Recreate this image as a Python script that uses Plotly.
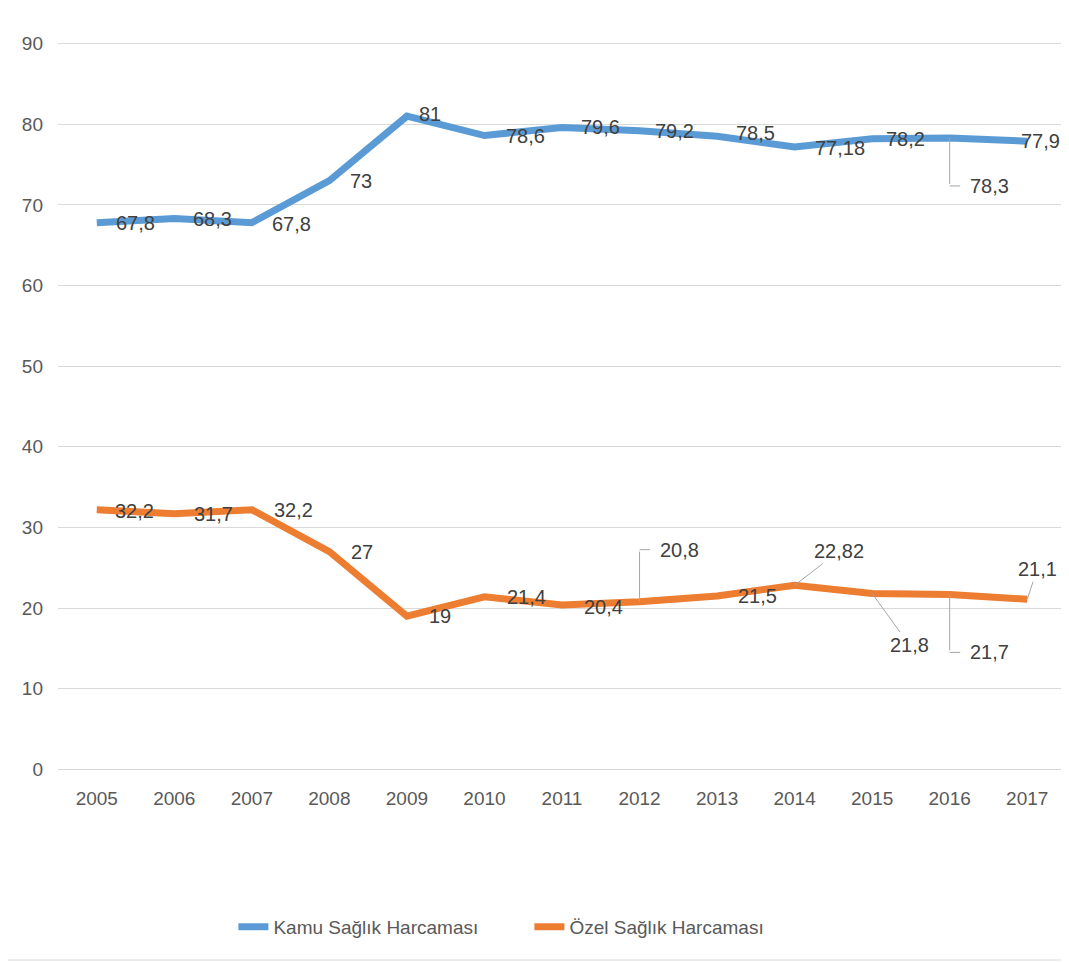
import plotly.graph_objects as go

# veriler
yillar = ['2005', '2006', '2007', '2008', '2009', '2010', '2011',
          '2012', '2013', '2014', '2015', '2016', '2017']
kamu = [67.8, 68.3, 67.8, 73, 81, 78.6, 79.6, 79.2, 78.5, 77.18, 78.2, 78.3, 77.9]
ozel = [32.2, 31.7, 32.2, 27, 19, 21.4, 20.4, 20.8, 21.5, 22.82, 21.8, 21.7, 21.1]
kamu_etiket = ['67,8', '68,3', '67,8', '73', '81', '78,6', '79,6', '79,2',
               '78,5', '77,18', '78,2', '78,3', '77,9']
ozel_etiket = ['32,2', '31,7', '32,2', '27', '19', '21,4', '20,4', '20,8',
               '21,5', '22,82', '21,8', '21,7', '21,1']

# etiket kaymalari (px) ve kilavuz tipi: '' yok, 'cap' capraz, 'dik' dirsekli
kamu_kayma = [(39, 0), (38, 0), (40, 1), (32, 0), (23, -2), (41, 0), (38, 0),
              (35, 0), (38, -3), (45, 1), (33, 0), (40, 48), (13, 0)]
kamu_kilavuz = [''] * 11 + ['dik', '']
ozel_kayma = [(38, 1), (39, 0), (42, 0), (33, 0), (33, 0), (42, 0), (41, 2),
              (40, -52), (40, 0), (44, -34), (37, 51), (40, 58), (10, -30)]
ozel_kilavuz = [''] * 7 + ['dik', '', 'cap', 'cap', 'dik', 'cap']

MAVI = '#5B9BD5'
TURUNCU = '#ED7D31'
GRI = '#A6A6A6'
FONT = 'Liberation Sans'
ETIKET_FONT = dict(family=FONT, size=20, color='#404040')

fig = go.Figure()
fig.add_trace(go.Scatter(x=yillar, y=kamu, mode='lines', name='Kamu Sağlık Harcaması',
                         line=dict(color=MAVI, width=7)))
fig.add_trace(go.Scatter(x=yillar, y=ozel, mode='lines', name='Özel Sağlık Harcaması',
                         line=dict(color=TURUNCU, width=7)))

# veri etiketleri (kategori ekseninde sira numarasi ile)
for seri, etiketler, kaymalar, kilavuzlar in [(kamu, kamu_etiket, kamu_kayma, kamu_kilavuz),
                                              (ozel, ozel_etiket, ozel_kayma, ozel_kilavuz)]:
    for i, (deger, metin, (dx, dy), kil) in enumerate(zip(seri, etiketler, kaymalar, kilavuzlar)):
        if kil == 'dik':
            # dikey parca
            fig.add_annotation(x=i, y=deger, text=' ', showarrow=True, ax=0, ay=dy,
                               arrowhead=0, arrowwidth=1, arrowcolor=GRI, standoff=0,
                               font=dict(size=1))
            # yatay parca
            fig.add_annotation(x=i, y=deger, text=' ', showarrow=True, ax=dx - 28, ay=0,
                               yshift=-dy, arrowhead=0, arrowwidth=1, arrowcolor=GRI,
                               standoff=0, font=dict(size=1))
        fig.add_annotation(x=i, y=deger, text=metin, showarrow=True,
                           ax=dx, ay=dy, arrowhead=0, arrowwidth=1, standoff=0,
                           arrowcolor=GRI if kil == 'cap' else 'rgba(0,0,0,0)',
                           font=ETIKET_FONT)

# cerceve
fig.add_shape(type='line', xref='paper', yref='paper', x0=1.001, x1=1.001,
              y0=-191 / 729, y1=771 / 729, line=dict(color='#D9D9D9', width=1))
fig.add_shape(type='line', xref='paper', yref='paper', x0=-58 / 1008, x1=1.001,
              y0=-189 / 729, y1=-189 / 729, line=dict(color='#D9D9D9', width=1))

fig.update_layout(width=1061, height=954, template='plotly_white',
                  margin=dict(l=50, r=3, t=34, b=191),
                  plot_bgcolor='white', paper_bgcolor='white',
                  font=dict(family=FONT, color='#595959'),
                  legend=dict(orientation='h', x=0.174, xanchor='left', y=-0.214,
                              yanchor='middle', entrywidth=251, entrywidthmode='pixels',
                              font=dict(family=FONT, size=19, color='#595959')))

fig.update_xaxes(type='category', range=[-0.5, 12.5], showgrid=False, showline=False,
                 zeroline=False, automargin=False, tickfont=dict(size=19, color='#595959'),
                 ticklabelstandoff=14)
fig.update_yaxes(range=[-0.2, 90.2], tickvals=[0, 10, 20, 30, 40, 50, 60, 70, 80, 90],
                 showgrid=True, gridwidth=1, gridcolor='#D9D9D9',
                 zeroline=False, showline=False, automargin=False,
                 tickfont=dict(size=19, color='#595959'), ticklabelstandoff=14)

fig.write_html('out.html')
